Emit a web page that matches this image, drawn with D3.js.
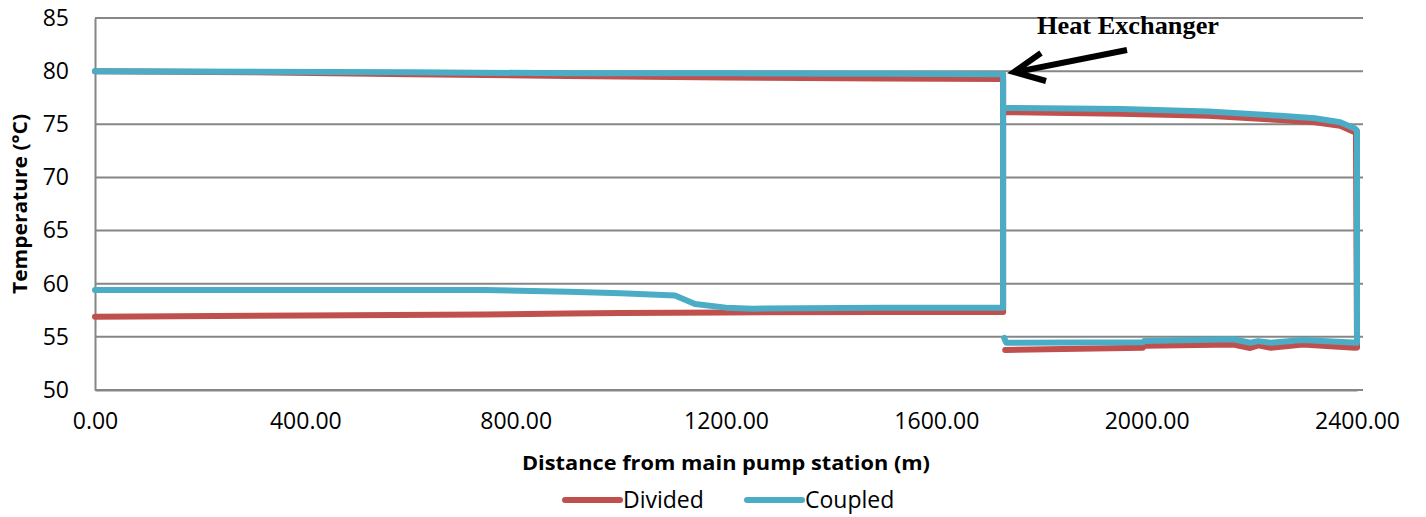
<!DOCTYPE html>
<html>
<head>
    <script src="https://cdn.jsdelivr.net/npm/d3@7"></script>
    <style>
        body { margin: 0; background: #fff; }
        .tick text { font-family: "Open Sans", sans-serif; font-size: 23px; fill: #000; }
        .grid line { stroke: #868686; stroke-width: 2; }
    </style>
</head>
<body>
<svg width="1426" height="517"></svg>
<script>
    // Divided series (x = distance, y = temperature), null splits the path
    var dividedDist = [0, 300, 600, 900, 1200, 1500, 1727, 1727, 1500, 1200, 1000, 900, 740, 400, 0,
        null,
        1727, 1950, 2117, 2254, 2320, 2368, 2398, 2400, 2396, 2297, 2236, 2212, 2197, 2165, 1995, 1993, 1900, 1731];
    var dividedTemp = [80.0, 79.9, 79.7, 79.55, 79.4, 79.3, 79.25, 57.35, 57.35, 57.3, 57.25, 57.2, 57.1, 57.0, 56.9,
        null,
        76.15, 76.0, 75.8, 75.4, 75.2, 74.87, 74.2, 54.0, 53.98, 54.27, 53.98, 54.2, 53.95, 54.27, 54.17, 53.98, 53.9, 53.77];

    // Coupled series
    var coupledDist = [0, 600, 900, 1200, 1500, 1727, 1727, 1500, 1250, 1200, 1141, 1103, 1000, 900, 740, 0,
        null,
        1727, 1953, 2117, 2254, 2320, 2368, 2396, 2400, 2400, 2297, 2236, 2212, 2197, 2165, 1995, 1993, 1733, 1729];
    var coupledTemp = [80.0, 79.9, 79.8, 79.8, 79.75, 79.7, 57.75, 57.75, 57.65, 57.75, 58.1, 58.9, 59.1, 59.25, 59.4, 59.4,
        null,
        76.55, 76.44, 76.2, 75.8, 75.56, 75.2, 74.6, 74.4, 54.45, 54.7, 54.45, 54.6, 54.45, 54.77, 54.6, 54.5, 54.45, 54.9];

    var xTicks = [0, 400, 800, 1200, 1600, 2000, 2400];
    var yTicks = [50, 55, 60, 65, 70, 75, 80, 85];
    var seriesNames = ["Divided", "Coupled"];
    var seriesColors = ["#C0504D", "#4BACC6"];

    var svg = d3.select("svg");
    var plotLeft = 95, plotRight = 1357, plotTop = 18, plotBottom = 390;

    var x = d3.scaleLinear().domain([0, 2400]).range([plotLeft, plotRight]);
    var y = d3.scaleLinear().domain([50, 85]).range([plotBottom, plotTop]);

    // horizontal gridlines
    svg.append("g")
        .attr("class", "grid")
        .selectAll("line")
        .data(yTicks)
        .enter().append("line")
        .attr("x1", plotLeft)
        .attr("x2", plotRight + 6)
        .attr("y1", function(d) { return y(d); })
        .attr("y2", function(d) { return y(d); });

    // y axis
    var yAxis = svg.append("g")
        .attr("transform", "translate(" + plotLeft + ",0)")
        .call(d3.axisLeft(y).tickValues(yTicks).tickSize(0).tickPadding(26));
    yAxis.select(".domain").attr("stroke", "#868686").attr("stroke-width", 2);

    // x axis
    var xAxis = svg.append("g")
        .attr("transform", "translate(0," + plotBottom + ")")
        .call(d3.axisBottom(x).tickValues(xTicks).tickSize(0).tickPadding(23)
            .tickFormat(function(d) { return d3.format(".2f")(d); }));
    xAxis.select(".domain").attr("stroke", "#868686").attr("stroke-width", 2);

    function toPoints(dist, temp) {
        return dist.map(function(d, i) { return [d, temp[i]]; });
    }

    var line = d3.line()
        .defined(function(d) { return d[0] !== null; })
        .x(function(d) { return x(d[0]); })
        .y(function(d) { return y(d[1]); });

    var series = [toPoints(dividedDist, dividedTemp), toPoints(coupledDist, coupledTemp)];

    svg.selectAll(".series")
        .data(series)
        .enter().append("path")
        .attr("class", "series")
        .attr("d", line)
        .attr("fill", "none")
        .attr("stroke", function(d, i) { return seriesColors[i]; })
        .attr("stroke-width", 6)
        .attr("stroke-linejoin", "round")
        .attr("stroke-linecap", "round");

    // axis titles
    svg.append("text")
        .attr("x", (plotLeft + plotRight) / 2)
        .attr("y", 470)
        .attr("text-anchor", "middle")
        .attr("font-family", "Open Sans, sans-serif")
        .attr("font-weight", "bold")
        .attr("font-size", 20)
        .attr("textLength", 408)
        .attr("lengthAdjust", "spacingAndGlyphs")
        .text("Distance from main pump station (m)");

    svg.append("text")
        .attr("transform", "translate(27," + 204 + ") rotate(-90)")
        .attr("text-anchor", "middle")
        .attr("font-family", "Open Sans, sans-serif")
        .attr("font-weight", "bold")
        .attr("font-size", 20)
        .attr("textLength", 180)
        .attr("lengthAdjust", "spacingAndGlyphs")
        .text("Temperature (°C)");

    // legend
    var legendX = [565, 747];
    var legend = svg.selectAll(".legend")
        .data(seriesNames)
        .enter().append("g")
        .attr("class", "legend")
        .attr("transform", function(d, i) { return "translate(" + legendX[i] + ",500)"; });
    legend.append("line")
        .attr("x1", 0).attr("x2", 55)
        .attr("stroke", function(d, i) { return seriesColors[i]; })
        .attr("stroke-width", 6)
        .attr("stroke-linecap", "round");
    legend.append("text")
        .attr("x", 58)
        .attr("y", 8)
        .attr("font-family", "Open Sans, sans-serif")
        .attr("font-size", 23)
        .text(function(d) { return d; });

    // annotation
    svg.append("text")
        .attr("x", 1037)
        .attr("y", 34)
        .attr("font-family", "Liberation Serif, serif")
        .attr("font-weight", "bold")
        .attr("font-size", 25)
        .attr("textLength", 182)
        .attr("lengthAdjust", "spacingAndGlyphs")
        .text("Heat Exchanger");

    svg.append("line")
        .attr("x1", 1127).attr("y1", 50)
        .attr("x2", 1016).attr("y2", 72)
        .attr("stroke", "#000").attr("stroke-width", 6);
    svg.append("polyline")
        .attr("points", "1041,53 1014,72 1046,81")
        .attr("fill", "none")
        .attr("stroke", "#000").attr("stroke-width", 6)
        .attr("stroke-linejoin", "miter");
</script>
</body>
</html>
